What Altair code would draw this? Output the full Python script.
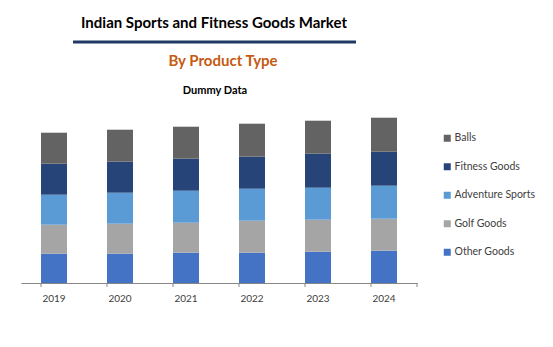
import altair as alt
import pandas as pd

years = ["2019", "2020", "2021", "2022", "2023", "2024"]
segments = ["Balls", "Fitness Goods", "Adventure Sports", "Golf Goods", "Other Goods"]
colors = ["#636363", "#264478", "#5B9BD5", "#A5A5A5", "#4472C4"]
other = [29.3, 29.3, 30.3, 30.3, 31.3, 32.3]
golf = [29, 30, 30, 32, 32, 32]
adventure = [30, 31, 32, 32, 32, 33]
fitness = [31, 31, 32, 32, 34, 34]
balls = [31, 32, 32, 33, 33, 34]

series = {"Other Goods": other, "Golf Goods": golf, "Adventure Sports": adventure,
          "Fitness Goods": fitness, "Balls": balls}
stack_order = {"Other Goods": 0, "Golf Goods": 1, "Adventure Sports": 2, "Fitness Goods": 3, "Balls": 4}
rows = []
for seg, vals in series.items():
    for y, v in zip(years, vals):
        rows.append({"year": y, "segment": seg, "value": v, "ord": stack_order[seg]})
df = pd.DataFrame(rows)

FONT = "Lato"
W, H = 396, 183

xscale = alt.Scale(domain=years, paddingInner=0.606, paddingOuter=0.303)

bars = alt.Chart(df).mark_bar().encode(
    x=alt.X("year:N", scale=xscale, sort=years,
            axis=alt.Axis(title=None, labelAngle=0, ticks=False, domainColor="#868686",
                          labelFont=FONT, labelFontSize=10, labelColor="#404040",
                          labelPadding=10)),
    y=alt.Y("value:Q", stack="zero", scale=alt.Scale(domain=[0, H]), axis=None),
    color=alt.Color("segment:N", scale=alt.Scale(domain=segments, range=colors),
                    legend=alt.Legend(title=None, orient="none", legendX=421, legendY=33,
                                      symbolType="square", symbolSize=49, symbolStrokeWidth=0,
                                      labelFont=FONT, labelFontSize=10.5, labelColor="#404040",
                                      rowPadding=17.5, labelOffset=2)),
    order=alt.Order("ord:Q"),
)

tick_df = pd.DataFrame({"year": years})
ticks = alt.Chart(tick_df).mark_rule(color="#868686").encode(
    x=alt.X("year:N", scale=xscale, sort=years, bandPosition=0),
    y=alt.value(H), y2=alt.value(H + 4),
)
last_tick = alt.Chart(tick_df.head(1)).mark_rule(color="#868686").encode(
    x=alt.value(W), y=alt.value(H), y2=alt.value(H + 4),
)

one = pd.DataFrame({"k": [0]})
title1 = alt.Chart(one).mark_text(text="Indian Sports and Fitness Goods Market", font=FONT,
                                  fontSize=15, fontWeight="bold", color="#000000",
                                  align="center", baseline="middle").encode(
    x=alt.value(193), y=alt.value(-77))
line = alt.Chart(one).mark_rule(color="#1F3864", strokeWidth=3).encode(
    x=alt.value(52), x2=alt.value(335), y=alt.value(-58))
title2 = alt.Chart(one).mark_text(text="By Product Type", font=FONT, fontSize=15,
                                  fontWeight="bold", color="#C55A11",
                                  align="center", baseline="middle").encode(
    x=alt.value(202), y=alt.value(-39))
title3 = alt.Chart(one).mark_text(text="Dummy Data", font=FONT, fontSize=11,
                                  fontWeight="bold", color="#000000",
                                  align="center", baseline="middle").encode(
    x=alt.value(194), y=alt.value(-9))

chart = alt.layer(bars, ticks, last_tick, title1, line, title2, title3).properties(
    width=W, height=H,
    autosize=alt.AutoSizeParams(type="none"),
    padding={"left": 21, "top": 100, "right": 136, "bottom": 64},
).configure_view(stroke=None)

chart.save("out.html", embed_options={"renderer": "svg", "actions": False})
